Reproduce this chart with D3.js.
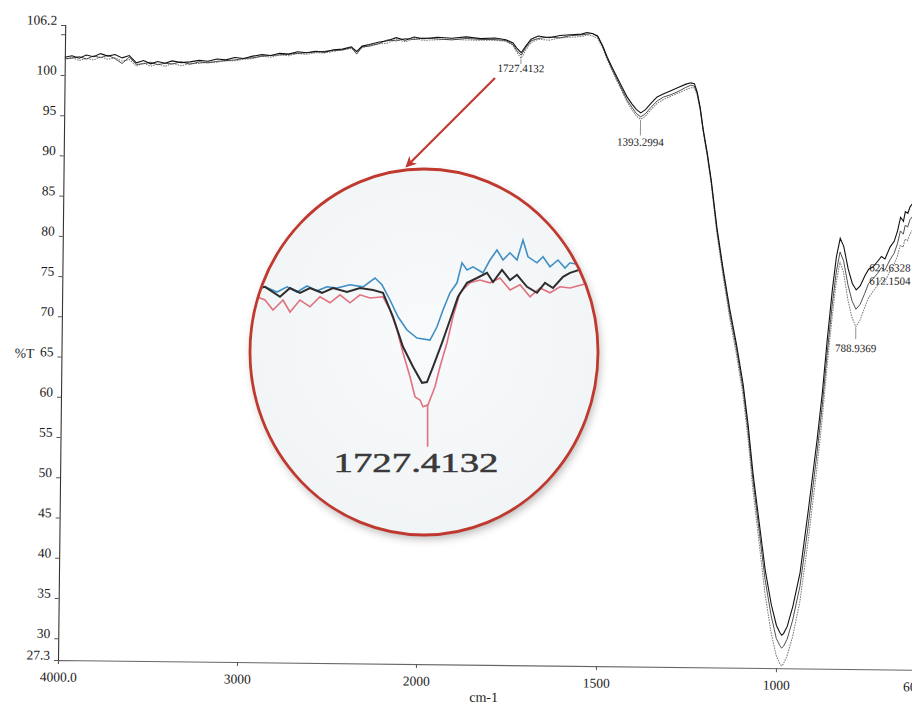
<!DOCTYPE html>
<html><head><meta charset="utf-8">
<script src="https://cdn.jsdelivr.net/npm/d3@7"></script>
<style>
html,body{margin:0;padding:0;background:#fff;}
svg{display:block;font-family:"Liberation Serif","Times New Roman",serif;}
svg text{font-family:"Liberation Serif","Times New Roman",serif;}
</style></head><body>
<svg id="chart" width="912" height="705"></svg>
<script>
// ---- main spectrum data (wavenumber, %T) ----
const wavenumbers = [4000,3960,3920,3880,3840,3800,3760,3720,3680,3640,3600,3560,3520,3480,3440,3400,3350,3300,3250,3200,3150,3100,3050,3000,2950,2900,2850,2800,2750,2700,2650,2600,2550,2500,2450,2400,2370,2340,2300,2250,2200,2150,2100,2050,2000,1960,1920,1880,1840,1800,1770,1750,1740,1727,1715,1700,1680,1650,1620,1590,1560,1545,1530,1515,1500,1488,1475,1460,1445,1432,1418,1405,1393,1380,1365,1348,1330,1310,1290,1270,1255,1245,1237,1228,1219,1207,1195,1178,1160,1139,1120,1100,1085,1070,1050,1033,1015,1000,990,985,980,970,955,936,915,893,880,868,855,845,835,825,812,800,789,778,765,755,743,730,720,710,696,685,676,668,660,655,648,642,630,621,612,600];
const seriesA = [102.2,102.4,102.1,102.5,102.3,102.7,102.4,102.6,102.2,102.5,101.6,101.9,101.5,101.8,101.6,101.9,101.7,101.8,102.0,101.9,102.2,102.1,102.4,102.3,102.6,102.8,102.7,103.0,102.9,103.2,103.1,103.3,103.2,103.5,103.6,103.9,103.3,104.0,104.2,104.5,104.7,105.1,104.8,105.2,105.0,105.2,105.1,105.3,105.1,105.2,105.0,104.6,104.0,103.4,104.2,105.1,105.5,105.3,105.6,105.7,105.8,106.0,105.9,105.6,104.3,103.0,101.8,100.5,99.2,98.1,97.2,96.5,96.1,96.5,97.3,98.1,98.5,98.9,99.3,99.7,99.9,99.8,98.8,96.8,94.1,91.2,87.8,82.0,77.0,71.7,67.5,62.5,57.5,51.5,45.0,39.5,35.2,32.6,31.7,31.4,31.6,32.5,35.0,39.2,47.0,55.7,61.5,68.1,74.5,78.5,80.8,79.8,77.0,75.2,74.4,74.9,76.2,77.0,77.3,78.0,78.6,78.3,79.8,80.5,81.8,83.5,83.0,84.2,84.0,84.8,85.5,85.2,85.9,86.2];
const seriesB = [102.0,102.1,102.3,102.0,102.4,102.2,102.5,102.1,101.5,102.3,101.4,101.5,101.7,101.4,101.6,101.5,101.8,101.5,101.8,101.7,101.9,102.0,102.1,102.3,102.4,102.6,102.7,102.8,102.9,103.0,103.1,103.2,103.3,103.4,103.5,103.8,103.0,103.9,104.0,104.3,104.8,104.7,105.0,104.9,105.1,105.0,104.9,105.1,105.0,105.0,104.9,104.4,103.7,103.1,104.0,104.9,105.2,105.4,105.3,105.6,105.7,105.8,105.9,105.5,104.2,102.8,101.6,100.2,98.9,97.7,96.8,96.0,95.6,96.0,96.8,97.6,98.1,98.4,98.8,99.3,99.6,99.5,98.6,96.7,94.0,91.0,87.6,81.7,76.6,71.2,67.0,61.9,56.8,50.7,44.0,38.3,33.8,31.0,30.1,29.8,30.0,30.9,33.3,37.5,45.0,54.0,59.8,66.3,72.6,76.6,79.1,78.0,75.0,73.0,72.0,72.6,74.0,75.2,75.8,76.5,77.2,76.9,78.2,79.0,80.2,81.8,81.4,82.5,82.3,83.2,83.9,83.6,84.3,84.6];
const seriesC = [101.9,102.2,101.8,102.1,101.9,102.3,102.0,102.2,101.8,102.0,101.2,101.6,101.2,101.5,101.2,101.6,101.3,101.6,101.6,101.8,101.8,102.0,102.0,102.2,102.3,102.6,102.5,102.8,102.7,103.0,102.9,103.1,103.1,103.3,103.5,103.7,103.4,103.8,104.1,104.3,104.4,104.9,104.6,105.0,104.8,104.9,105.0,104.9,104.9,104.9,104.8,104.3,103.5,102.7,103.7,104.7,105.1,105.0,105.3,105.4,105.5,105.7,105.6,105.3,104.0,102.7,101.4,100.0,98.7,97.5,96.5,95.7,95.3,95.7,96.5,97.3,97.8,98.2,98.6,99.0,99.3,99.3,98.4,96.5,93.8,90.8,87.3,81.3,76.1,70.6,66.3,61.1,55.8,49.6,42.6,36.6,31.8,28.9,27.9,27.6,27.8,28.8,31.2,35.5,43.0,52.0,58.0,64.6,71.0,75.2,77.9,76.6,73.2,71.0,69.8,70.6,72.2,73.4,74.2,75.0,75.8,75.4,76.8,77.6,78.6,80.0,79.8,80.8,80.6,81.4,82.2,81.9,82.6,83.0];

// ---- axes ----
const yTickValues = [106.2,100,95,90,85,80,75,70,65,60,55,50,45,40,35,30,27.3];
const yTickLabels = ["106.2","100","95","90","85","80","75","70","65","60","55","50","45","40","35","30","27.3"];
const yMinorTicks = [105];
const xTickValues = [4000,3000,2000,1500,1000,600];
const xTickLabels = ["4000.0","3000","2000","1500","1000","600"];

// ---- peak annotations ----
const peakNames  = ["1727.4132","1393.2994","788.9369","621.6328","612.1504"];
const peakWn     = [1727.4,1393.3,788.9,621.6,612.2];
const peakFrom   = [102.6,95.2,69.7,null,null];
const peakTo     = [102.0,93.3,68.3,null,null];
const peakTextWn = [1727.4,1393.3,788.9,753,753];
const peakTextAt = [101.5,92.5,67.2,77.25,75.6];
const peakAnchor = ["middle","middle","middle","start","start"];

// ---- inset (magnified 1727 band) ----
const insetBlue = [[1900,104.75],[1890,104.83],[1878,104.70],[1868,104.83],[1858,104.70],[1848,104.85],[1838,104.73],[1828,104.83],[1818,104.80],[1805,104.88],[1792,104.83],[1780,105.05],[1773,104.88],[1765,104.50],[1757,104.08],[1748,103.75],[1738,103.55],[1725,103.50],[1718,103.83],[1712,104.25],[1705,104.68],[1698,104.93],[1693,105.43],[1688,105.25],[1682,105.33],[1672,105.18],[1665,105.50],[1658,105.75],[1652,105.50],[1645,105.68],[1638,105.50],[1632,106.00],[1627,105.58],[1618,105.43],[1612,105.58],[1605,105.33],[1597,105.50],[1590,105.30],[1585,105.43],[1570,105.35]];
const insetBlack = [[1900,104.78],[1890,104.83],[1875,104.58],[1865,104.80],[1855,104.68],[1845,104.80],[1833,104.68],[1822,104.80],[1808,104.70],[1795,104.80],[1782,104.75],[1772,104.68],[1762,104.08],[1752,103.33],[1742,102.83],[1733,102.43],[1728,102.45],[1722,102.83],[1713,103.43],[1705,104.00],[1697,104.58],[1688,104.93],[1678,105.05],[1668,105.18],[1662,104.95],[1653,105.25],[1645,105.00],[1638,105.13],[1628,104.83],[1618,104.68],[1610,104.93],[1602,104.80],[1592,105.08],[1585,105.18],[1570,105.30]];
const insetRed = [[1900,104.60],[1890,104.50],[1882,104.25],[1872,104.50],[1865,104.20],[1855,104.50],[1845,104.33],[1835,104.58],[1825,104.43],[1815,104.63],[1805,104.43],[1795,104.63],[1785,104.55],[1772,104.58],[1765,104.25],[1758,103.75],[1752,103.18],[1745,102.58],[1740,102.08],[1735,102.00],[1732,101.83],[1727,101.88],[1720,102.33],[1715,102.83],[1708,103.43],[1702,104.08],[1695,104.68],[1685,104.93],[1675,105.00],[1665,104.93],[1655,105.05],[1645,104.75],[1635,104.88],[1625,104.58],[1615,104.80],[1605,104.68],[1595,104.83],[1585,104.80],[1570,104.90]];
const insetPeakWn = 1727.4;
const insetPeakLabel = "1727.4132";

// ================= drawing =================
const SERIF = '"Liberation Serif","Times New Roman",serif';
const svg = d3.select("#chart");
const defs = svg.append("defs");

const x = d3.scaleLinear().domain([4000,2000,600]).range([58,416,920]);
const y = d3.scaleLinear().domain([27.3,106.2]).range([660,25]);

// whole scanned chart is slightly rotated
const g = svg.append("g").attr("transform","rotate(0.65,58,660)");

// y axis
const yAxis = g.append("g").attr("transform","translate(58,0)")
  .call(d3.axisLeft(y).tickValues(yTickValues).tickSize(4).tickPadding(4)
        .tickFormat((d,i)=>yTickLabels[i]));
yAxis.attr("font-family",null).attr("font-size",null);
yAxis.select(".domain").attr("stroke","#333").attr("stroke-width",1.1);
yAxis.selectAll(".tick line").attr("stroke","#555");
yAxis.selectAll(".tick text").style("font-family",SERIF).style("font-size","13.5px")
  .attr("fill","#1a1a1a").attr("dy","-0.05em");
g.append("g").selectAll("line").data(yMinorTicks).join("line")
  .attr("x1",54).attr("x2",58).attr("y1",d=>y(d)).attr("y2",d=>y(d)).attr("stroke","#555");

// x axis
const xAxis = g.append("g").attr("transform","translate(0,660)")
  .call(d3.axisBottom(x).tickValues(xTickValues).tickSize(4).tickPadding(8)
        .tickFormat((d,i)=>xTickLabels[i]));
xAxis.attr("font-family",null).attr("font-size",null);
xAxis.select(".domain").attr("stroke","#666").attr("stroke-width",1.1);
xAxis.selectAll(".tick line").attr("stroke","#555");
xAxis.selectAll(".tick text").style("font-family",SERIF).style("font-size","13.5px").attr("fill","#1a1a1a")
  .attr("dx",d=>d===600 ? -7 : 0);

// axis titles
g.append("text").attr("x",21).attr("y",y(65)-3).attr("text-anchor","middle")
  .attr("dominant-baseline","central").style("font-size","13.5px").attr("fill","#1a1a1a").text("%T");
g.append("text").attr("x",(x(2000)+x(1500))/2-22).attr("y",697).attr("text-anchor","middle")
  .style("font-size","14px").attr("fill","#1a1a1a").text("cm-1");

// spectra
const line = d3.line().x((d,i)=>x(wavenumbers[i])).y(d=>y(d)).curve(d3.curveLinear);
g.append("path").datum(seriesC).attr("d",line).attr("fill","none")
  .attr("stroke","#7a7a7a").attr("stroke-width",1).attr("stroke-dasharray","1.6,1");
g.append("path").datum(seriesB).attr("d",line).attr("fill","none")
  .attr("stroke","#3c3c3c").attr("stroke-width",0.9);
g.append("path").datum(seriesA).attr("d",line).attr("fill","none")
  .attr("stroke","#111").attr("stroke-width",1.1);

// peak labels
peakNames.forEach((name,i)=>{
  if (peakFrom[i] !== null) {
    g.append("line").attr("x1",x(peakWn[i])).attr("x2",x(peakWn[i]))
      .attr("y1",y(peakFrom[i])).attr("y2",y(peakTo[i]))
      .attr("stroke","#777").attr("stroke-width",0.8);
  }
  g.append("text").attr("x",x(peakTextWn[i])).attr("y",y(peakTextAt[i]))
    .attr("text-anchor",peakAnchor[i]).attr("dominant-baseline","central")
    .style("font-size","11px").attr("fill","#1a1a1a").text(name);
});

// ---- inset ----
const ecx = 424, ecy = 352, erx = 174, ery = 183;
const shadow = defs.append("filter").attr("id","shadow").attr("x","-20%").attr("y","-20%").attr("width","140%").attr("height","140%");
shadow.append("feDropShadow").attr("dx",2).attr("dy",4).attr("stdDeviation",4)
  .attr("flood-color","#000").attr("flood-opacity",0.28);
defs.append("clipPath").attr("id","clipEll").append("ellipse")
  .attr("cx",ecx).attr("cy",ecy).attr("rx",erx-1).attr("ry",ery-1);
const grad = defs.append("radialGradient").attr("id","insetFill").attr("cx","50%").attr("cy","45%").attr("r","60%");
grad.append("stop").attr("offset","0%").attr("stop-color","#f8fafb");
grad.append("stop").attr("offset","100%").attr("stop-color","#f1f4f6");

svg.append("ellipse").attr("cx",ecx).attr("cy",ecy).attr("rx",erx).attr("ry",ery)
  .attr("fill","url(#insetFill)").attr("filter","url(#shadow)");

const ix = d3.scaleLinear().domain([1900,1560]).range([255,595]);
const iy = d3.scaleLinear().domain([101.5,106]).range([420,240]);
const iline = d3.line().x(d=>ix(d[0])).y(d=>iy(d[1]));
const ig = svg.append("g").attr("clip-path","url(#clipEll)");
ig.append("path").datum(insetRed).attr("d",iline).attr("fill","none")
  .attr("stroke","#e0717e").attr("stroke-width",1.6);
ig.append("path").datum(insetBlue).attr("d",iline).attr("fill","none")
  .attr("stroke","#3f8ec4").attr("stroke-width",1.6);
ig.append("path").datum(insetBlack).attr("d",iline).attr("fill","none")
  .attr("stroke","#2d2d2d").attr("stroke-width",2);
ig.append("line").attr("x1",ix(insetPeakWn)).attr("x2",ix(insetPeakWn))
  .attr("y1",iy(101.88)).attr("y2",iy(100.83)).attr("stroke","#e0717e").attr("stroke-width",1.6);
ig.append("text").attr("x",ix(1739)).attr("y",iy(100.2)).attr("text-anchor","middle")
  .style("font-size","27px").attr("fill","#3a3a3a").attr("stroke","#3a3a3a").attr("stroke-width",0.5)
  .attr("textLength",165).attr("lengthAdjust","spacingAndGlyphs").text(insetPeakLabel);

svg.append("ellipse").attr("cx",ecx).attr("cy",ecy).attr("rx",erx).attr("ry",ery)
  .attr("fill","none").attr("stroke","#c0392f").attr("stroke-width",2.8);

// arrow
defs.append("marker").attr("id","arrowHead").attr("viewBox","0 0 10 10").attr("refX",8).attr("refY",5)
  .attr("markerWidth",5).attr("markerHeight",5).attr("orient","auto")
  .append("path").attr("d","M0,0 L10,5 L0,10 L3,5 Z").attr("fill","#c0392f");
svg.append("line").attr("x1",495).attr("y1",78).attr("x2",407).attr("y2",166)
  .attr("stroke","#c0392f").attr("stroke-width",2.2).attr("marker-end","url(#arrowHead)");
</script>
</body></html>
